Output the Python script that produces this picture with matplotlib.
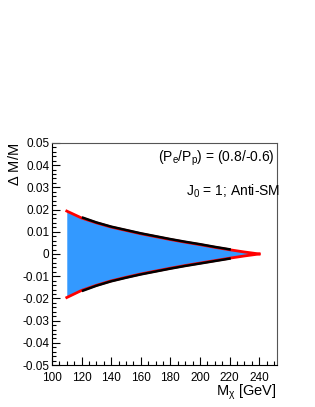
import matplotlib
matplotlib.use('Agg')
import matplotlib.pyplot as plt
from matplotlib.ticker import MultipleLocator

plt.rcParams['font.family'] = ['Liberation Sans', 'DejaVu Sans']
plt.rcParams['mathtext.fontset'] = 'custom'
plt.rcParams['mathtext.rm'] = 'Liberation Sans'
plt.rcParams['mathtext.it'] = 'Liberation Sans'

# mass points and band edges
mass = [110, 120, 130, 140, 150, 160, 170, 180, 190, 200, 210, 220, 230, 240]
band_up = [0.0193, 0.0162, 0.0140, 0.0121, 0.0106, 0.0091, 0.0078, 0.0065,
           0.0053, 0.0042, 0.0030, 0.0019, 0.0009, 0.0]
band_lo = [-0.0196, -0.0164, -0.0141, -0.0121, -0.0105, -0.0090, -0.0077, -0.0064,
           -0.0052, -0.0041, -0.0030, -0.0019, -0.0009, 0.0]

# black curves (second calculation), shorter mass range
mass_k = [121, 130, 140, 150, 160, 170, 180, 190, 200, 210, 220]
black_up = [0.0163, 0.0142, 0.0123, 0.0108, 0.0093, 0.0080, 0.0067,
            0.0055, 0.0044, 0.0032, 0.0021]
black_lo = [-0.0165, -0.0143, -0.0123, -0.0107, -0.0092, -0.0079, -0.0066,
            -0.0054, -0.0043, -0.0032, -0.0021]

fig = plt.figure(figsize=(3.15, 4.07), dpi=100)
ax = fig.add_axes([0.165, 0.103, 0.714, 0.546])

ax.fill_between(mass, band_lo, band_up, color='#3399ff', lw=0)
ax.plot(mass, band_up, color='red', lw=2.0)
ax.plot(mass, band_lo, color='red', lw=2.0)
ax.plot(mass_k, black_up, color='black', lw=1.8)
ax.plot(mass_k, black_lo, color='black', lw=1.8)

ax.set_xlim(100, 252)
ax.set_ylim(-0.05, 0.05)
ax.xaxis.set_major_locator(MultipleLocator(20))
ax.xaxis.set_minor_locator(MultipleLocator(5))
ax.yaxis.set_major_locator(MultipleLocator(0.01))
ax.yaxis.set_minor_locator(MultipleLocator(0.002))
ax.tick_params(which='both', direction='in', top=False, right=False, labelsize=8.5)
ax.tick_params(axis='x', pad=5)
ax.tick_params(axis='y', pad=2)
ax.tick_params(which='major', length=6, width=0.8)
ax.tick_params(which='minor', length=3, width=0.8)
ax.set_yticklabels(['%g' % v if abs(v) > 1e-9 else '0' for v in ax.get_yticks()])
for s in ['top', 'right']:
    ax.spines[s].set_color('#555555')

ax.text(0.99, 0.93, r'(P$_e$/P$_p$) = (0.8/-0.6)', transform=ax.transAxes,
        ha='right', va='center', fontsize=10)
ax.text(0.595, 0.78, r'J$_0$ = 1; Anti-SM', transform=ax.transAxes,
        ha='left', va='center', fontsize=10)

fig.text(0.879, 0.035, r'M$_\chi$ [GeV]', ha='right', va='center', fontsize=10.5)
fig.text(0.045, 0.649, r'$\Delta$ M/M', ha='center', va='top', rotation=90, fontsize=10.5)

fig.savefig('out.png', dpi=100)
